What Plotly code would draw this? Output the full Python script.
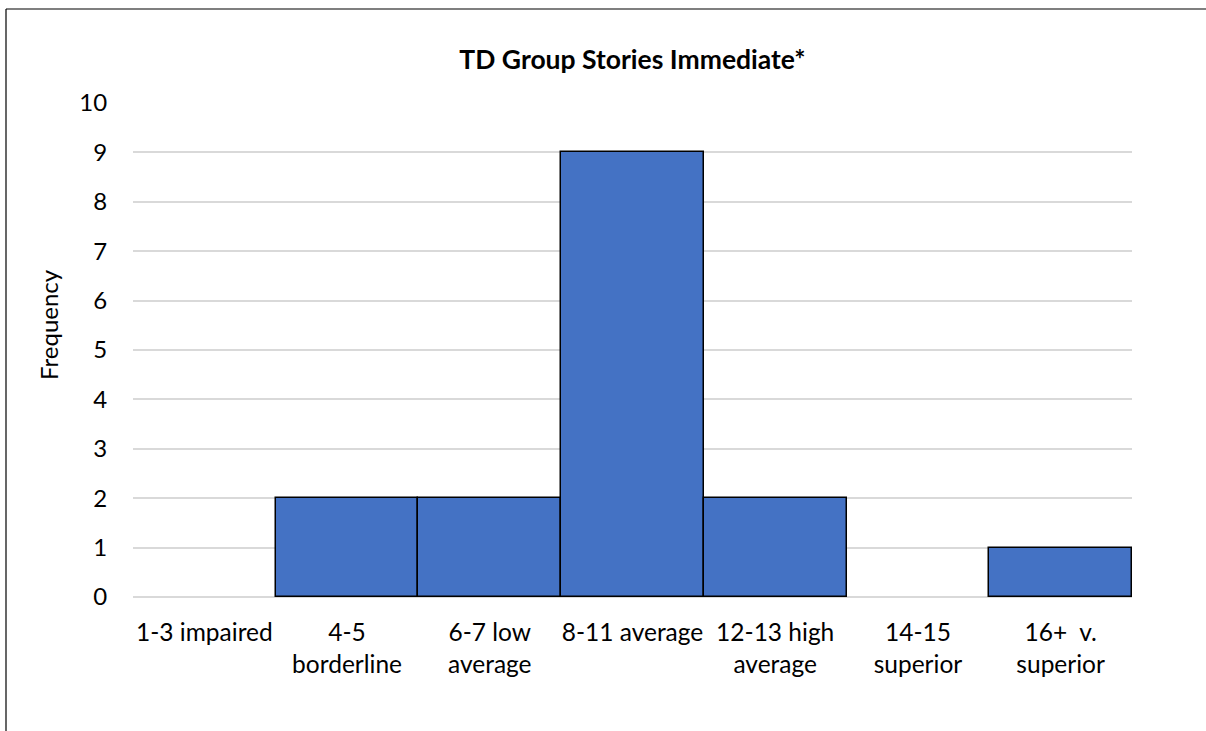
import plotly.graph_objects as go

categories = ["1-3 impaired", "4-5<br>borderline", "6-7 low<br>average", "8-11 average",
              "12-13 high<br>average", "14-15<br>superior", "16+  v.<br>superior"]
frequency = [0, 2, 2, 9, 2, 0, 1]
y_ticks = list(range(0, 11))
title_text = "<b>TD Group Stories Immediate*</b>"

W, H = 1206, 731
L, R, T, B = 133, 1132, 103, 597
pw, ph = R - L, B - T

fig = go.Figure(go.Bar(
    x=categories, y=frequency,
    marker=dict(color="#4472C4",
                line=dict(color="black", width=[1.5 if v > 0 else 0 for v in frequency])),
))

fig.update_layout(
    width=W, height=H,
    margin=dict(l=L, r=W - R, t=T, b=H - B, autoexpand=False),
    paper_bgcolor="white", plot_bgcolor="white",
    bargap=0,
    font=dict(family="Lato, Carlito, Calibri, sans-serif", size=24, color="black"),
    title=dict(text=title_text, x=0.5, xref="paper",
               y=1 - 60 / H, yanchor="middle", xanchor="center",
               font=dict(size=26.5, color="black")),
    showlegend=False,
)
fig.update_xaxes(
    showgrid=False, showline=False, zeroline=False,
    ticks="outside", ticklen=14, tickcolor="rgba(0,0,0,0)",
    tickangle=0, tickfont=dict(size=24.5),
)
fig.update_yaxes(
    range=[0, 10], tickvals=y_ticks,
    showgrid=True, gridcolor="#D9D9D9", gridwidth=1.5,
    zeroline=True, zerolinecolor="#D9D9D9", zerolinewidth=1.5,
    showline=False,
    ticks="outside", ticklen=20, tickcolor="rgba(0,0,0,0)",
    tickfont=dict(size=24),
)
fig.add_annotation(
    text="Frequency", textangle=-90, showarrow=False,
    xref="paper", yref="paper",
    x=(48 - L) / pw, y=(B - 325) / ph, xanchor="center", yanchor="middle",
    font=dict(size=24),
)
# chart border (top and left edges visible)
fig.add_shape(type="line", xref="paper", yref="paper",
              x0=(6 - L) / pw, x1=(W + 20 - L) / pw,
              y0=(B - 9) / ph, y1=(B - 9) / ph,
              line=dict(color="black", width=1.2))
fig.add_shape(type="line", xref="paper", yref="paper",
              x0=(6 - L) / pw, x1=(6 - L) / pw,
              y0=(B - 9) / ph, y1=(B - H - 20) / ph,
              line=dict(color="black", width=1.2))

fig.write_html("out.html", config={"displayModeBar": False},
               post_script="document.body.style.margin='0';document.body.style.overflow='hidden';")
